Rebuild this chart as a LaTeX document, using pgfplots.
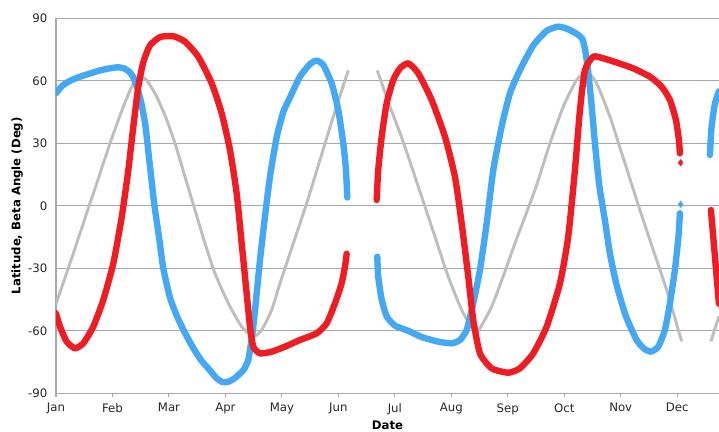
\documentclass[border=0pt]{standalone}
\usepackage{pgfplots}
\pgfplotsset{compat=1.18}
\usepackage{fontspec}
\setmainfont{DejaVu Sans}
\definecolor{betablue}{HTML}{45A8F2}
\definecolor{betared}{HTML}{EE1D23}
\definecolor{latgray}{HTML}{BEBEBE}
\definecolor{gridgray}{HTML}{A8A8A8}

\begin{document}
\begin{tikzpicture}
\useasboundingbox (-42pt,-29pt) rectangle (497.25pt,295pt);
\clip (-42pt,-29pt) rectangle (497.25pt,295pt);
\begin{axis}[
    at={(0pt,0pt)}, anchor=south west,
    scale only axis,
    width=497.25pt, height=281.25pt,
    xmin=0, xmax=11.74,
    ymin=-90, ymax=90,
    axis lines*=left,
    axis line style={gridgray, line width=0.8pt, -},
    xtick={0,...,11},
    xticklabels={Jan,Feb,Mar,Apr,May,Jun,Jul,Aug,Sep,Oct,Nov,Dec},
    ytick={-90,-60,-30,0,30,60,90},
    yticklabels={-90,-60,-30,0,30,60,90},
    ymajorgrids,
    grid style={gridgray, line width=0.7pt},
    tick align=outside,
    major tick length=3pt,
    xtick style={gridgray, line width=0.8pt},
    ytick style={draw=none},
    tick label style={font=\fontsize{8.8}{10.5}\selectfont, text=black!85},
    xticklabel style={yshift=-1pt},
    xlabel={\textbf{Date}},
    ylabel={\textbf{Latitude, Beta Angle (Deg)}},
    label style={font=\fontsize{8.8}{10.5}\selectfont},
    xlabel style={yshift=2.5pt},
    ylabel style={yshift=-3pt},
    clip=true,
    every axis plot/.append style={smooth, tension=0.35},
]
% latitude
\addplot[latgray, line width=2.2pt, line join=round] coordinates {
(0,-47) (0.248,-27.6) (0.483,-8.4) (0.721,10.8) (0.956,30) (1.192,47.6) (1.369,58.8)
(1.487,62) (1.606,60.4) (1.783,52.4) (1.95,42) (2.107,30) (2.284,14) (2.461,-2)
(2.638,-18) (2.815,-32.4) (3.051,-46.8) (3.288,-58) (3.493,-62.8) (3.642,-59.6)
(3.819,-50) (3.966,-37.2) (4.202,-18) (4.439,1.2) (4.674,22) (4.910,42.8) (5.175,65)
};
\addplot[latgray, line width=2.2pt, line join=round] coordinates {
(5.689,65) (5.914,47.6) (6.091,35) (6.238,23.6) (6.475,4.4) (6.710,-14.8) (6.946,-34)
(7.183,-50) (7.388,-59.6) (7.445,-61) (7.507,-58.8) (7.714,-48.4) (7.950,-31.5)
(8.127,-18) (8.322,-4) (8.511,10) (8.747,30) (8.982,47.6) (9.219,60.4) (9.396,64.4)
(9.573,58.8) (9.809,42.8) (10.044,23) (10.340,-2) (10.576,-21.2)
(10.813,-40.4) (11.078,-65)
};
\addplot[latgray, line width=2.2pt] coordinates {(11.597,-65) (11.739,-53)};
% beta, blue
\addplot[betablue, line width=4.8pt, line join=round, line cap=round] coordinates {
(0,54) (0.106,57.5) (0.248,60) (0.425,62) (0.602,63.5) (0.779,65) (0.956,66)
(1.098,66.5) (1.204,66) (1.292,64.5) (1.363,62) (1.434,57) (1.505,50) (1.576,40)
(1.611,32) (1.664,19) (1.744,0) (1.824,-15) (1.900,-30) (2.018,-44) (2.142,-53)
(2.284,-61) (2.426,-68) (2.567,-74) (2.727,-79) (2.833,-82.5) (2.939,-84.5)
(3.045,-84.5) (3.152,-83) (3.258,-80.5) (3.329,-78.5) (3.405,-74) (3.453,-66)
(3.493,-58) (3.554,-42) (3.612,-26) (3.701,-5) (3.789,14) (3.908,33) (4.024,45)
(4.143,52) (4.320,62) (4.497,68) (4.616,69.7) (4.733,67.6) (4.881,58.8) (4.998,46)
(5.087,30) (5.135,17) (5.158,4)
};
\addplot[betablue, line width=4.8pt, line join=round, line cap=round] coordinates {
(5.689,-24.4) (5.706,-34) (5.767,-45) (5.855,-53) (6.002,-57.5) (6.238,-60)
(6.475,-63) (6.769,-65.2) (7.006,-66) (7.153,-64.4) (7.272,-59.6) (7.388,-46.8)
(7.507,-30.8) (7.626,-8.4) (7.743,17.2) (7.891,38) (8.038,54) (8.215,65.2)
(8.451,77) (8.688,84) (8.894,86) (9.048,85) (9.225,82.5) (9.322,80) (9.375,74)
(9.425,64) (9.485,48) (9.543,30) (9.619,10) (9.720,-7) (9.809,-23) (9.927,-38)
(10.092,-53) (10.282,-64.4) (10.411,-68.5) (10.535,-70) (10.664,-67.6)
(10.782,-59.6) (10.871,-46.8) (10.959,-30.8) (11.022,-14.8) (11.048,-3.6)
};
\addplot[betablue, only marks, mark=diamond*, mark size=2.4pt] coordinates {(11.061,0.7)};
\addplot[betablue, line width=4.8pt, line join=round, line cap=round] coordinates {
(11.579,24.4) (11.609,38) (11.668,49) (11.739,55)
};
% beta, red
\addplot[betared, line width=4.8pt, line join=round, line cap=round] coordinates {
(0,-51.6) (0.071,-58) (0.189,-65.2) (0.336,-68.4) (0.483,-66) (0.660,-58)
(0.837,-45.2) (1.015,-27.6) (1.163,-5.5) (1.280,17) (1.369,38) (1.457,57)
(1.546,69) (1.664,77) (1.841,81) (2.018,81.5) (2.107,81.2) (2.284,78.8)
(2.519,71.6) (2.757,58.8) (2.934,44.4) (3.081,26.8) (3.199,6) (3.288,-18)
(3.376,-42) (3.435,-58) (3.493,-67.6) (3.612,-70.8) (3.819,-70) (4.055,-67.6)
(4.320,-64.4) (4.616,-61.2) (4.793,-56.4) (4.940,-46.8) (5.058,-37.2)
(5.117,-29.2) (5.147,-23)
};
\addplot[betared, line width=4.8pt, line join=round, line cap=round] coordinates {
(5.678,2.8) (5.706,17.2) (5.767,33.2) (5.855,49.2) (5.972,60.4) (6.091,66)
(6.238,68.4) (6.415,63.6) (6.652,50.8) (6.887,33.2) (7.064,14) (7.183,-8.4)
(7.300,-34) (7.388,-54.8) (7.507,-70.8) (7.714,-78) (8.008,-80.1) (8.215,-78)
(8.451,-70.8) (8.688,-58) (8.924,-37.2) (9.070,-14.8) (9.189,17.2) (9.278,46)
(9.366,65.2) (9.513,71.6) (9.690,70.8) (9.927,68.8) (10.221,66) (10.517,62)
(10.724,57.2) (10.871,50.8) (10.977,41.2) (11.030,31.6) (11.048,25.2)
};
\addplot[betared, only marks, mark=diamond*, mark size=2.4pt] coordinates {(11.061,20.7)};
\addplot[betared, line width=4.8pt, line join=round, line cap=round] coordinates {
(11.597,-2) (11.638,-14.8) (11.698,-34) (11.739,-47)
};
\end{axis}
\end{tikzpicture}
\end{document}
